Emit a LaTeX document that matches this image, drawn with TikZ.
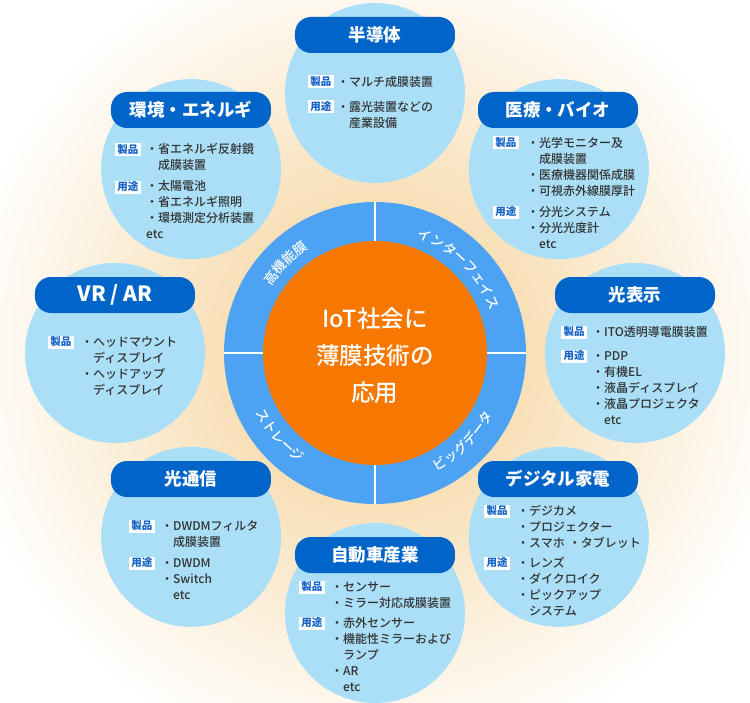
\documentclass[tikz,border=0pt]{standalone}
\usepackage{fontspec}
\setmainfont{Noto Sans CJK JP}
\newfontfamily\medfont{Noto Sans CJK JP Medium}
\usetikzlibrary{decorations.text}
\definecolor{bubblecol}{RGB}{170,223,247}
\definecolor{titleblue}{RGB}{0,100,200}
\definecolor{ringblue}{RGB}{77,163,243}
\definecolor{hubcol}{RGB}{247,120,0}
\definecolor{ink}{RGB}{51,51,51}
\definecolor{tagblue}{RGB}{20,100,200}
\definecolor{glowcol}{RGB}{248,224,184}
\pgfdeclareradialshading{glow}{\pgfpoint{0bp}{0bp}}{color(0bp)=(glowcol); color(9bp)=(glowcol); color(25bp)=(white); color(50bp)=(white)}
\begin{document}
\begin{tikzpicture}[x=1pt,y=1pt,
	bubble/.style={circle,fill=bubblecol,minimum size=180,inner sep=0},
	title/.style={fill=titleblue,text=white,rounded corners=16,minimum width=160,minimum height=36,inner sep=0,font=\fontsize{17.5}{20}\selectfont\bfseries},
	tag/.style={fill=white,text=tagblue,minimum width=26,minimum height=13,inner sep=0,font=\fontsize{10.5}{12}\selectfont\bfseries},
	items/.style={anchor=base west,text width=150,align=left,inner sep=0,text=ink,font=\fontsize{12}{16}\medfont},
	sep/.style={white,line width=2.5},
	ringtext/.style={decorate,decoration={text along path,text align=center,text color=white,text={|\fontsize{13.5}{13.5}\medfont|#1}}}]
		\useasboundingbox (-375,-349) rectangle (375,353);
		\clip (-375,-349) rectangle (375,353);
		\shade[shading=glow] (0,0) circle (420);

		\node[bubble] (semi) at (90:260) {};
		\node[bubble] (env) at (135:260) {};
		\node[bubble] (med) at (45:260) {};
		\node[bubble] (vr) at (180:260) {};
		\node[bubble] (disp) at (0:260) {};
		\node[bubble] (comm) at (225:260) {};
		\node[bubble] (home) at (315:260) {};
		\node[bubble] (auto) at (270:260) {};

		\node[circle,fill=ringblue,minimum size=302,inner sep=0] (ring) at (0,0) {};
		\draw[sep] (ring.north) -- (ring.south); \draw[sep] (ring.west) -- (ring.east);
		\node[circle,fill=hubcol,minimum size=224,inner sep=0] (hub) at (0,0) {};
		\node[align=center,text=white,font=\fontsize{23.5}{37}\medfont] (hubtext) at (0,-3) {IoT社会に\\薄膜技術の\\応用};

		\path[ringtext=高機能膜] (165:123) arc[start angle=165,end angle=105,radius=123];
		\path[ringtext=インターフェイス] (80:123) arc[start angle=80,end angle=10,radius=123];
		\path[ringtext=ビッグデータ] (-80:133) arc[start angle=-80,end angle=-10,radius=133];
		\path[ringtext=ストレージ] (186:133) arc[start angle=186,end angle=256,radius=133];

		\node[title] (semiT) at (0,318) {半導体};
		\node[tag] (semiA) at (-54,271) {製品}; \node[items] (semiAx) at (-38,266.5) {・マルチ成膜装置};
		\node[tag] (semiB) at (-54,246) {用途}; \node[items] (semiBx) at (-38,241.5) {・露光装置などの\\　産業設備};

		\node[title] (envT) at (-184,243) {環境・エネルギ};
		\node[tag] (envA) at (-247,203) {製品}; \node[items] (envAx) at (-229,199.5) {・省エネルギ反射鏡\\　成膜装置};
		\node[tag] (envB) at (-247,166) {用途}; \node[items] (envBx) at (-229,162.5) {・太陽電池\\・省エネルギ照明\\・環境測定分析装置\\etc};

		\node[title] (medT) at (183,243) {医療・バイオ};
		\node[tag] (medA) at (131,210) {製品}; \node[items] (medAx) at (152,205.5) {・光学モニター及\\　成膜装置\\・医療機器関係成膜\\・可視赤外線膜厚計};
		\node[tag] (medB) at (131,141) {用途}; \node[items] (medBx) at (152,136.5) {・分光システム\\・分光光度計\\　etc};

		\node[title,font=\fontsize{21}{24}\selectfont\bfseries] (vrT) at (-260,58) {VR / AR};
		\node[tag] (vrA) at (-314,11) {製品}; \node[items] (vrAx) at (-294,6.5) {・ヘッドマウント\\　ディスプレイ\\・ヘッドアップ\\　ディスプレイ};

		\node[title] (dispT) at (260,58) {光表示};
		\node[tag] (dispA) at (199,21) {製品}; \node[items] (dispAx) at (217,16.5) {・ITO透明導電膜装置};
		\node[tag] (dispB) at (199,-3) {用途}; \node[items] (dispBx) at (217,-7.5) {・PDP\\・有機EL\\・液晶ディスプレイ\\・液晶プロジェクタ\\　etc};

		\node[title] (commT) at (-184,-126) {光通信};
		\node[tag] (commA) at (-233,-173) {製品}; \node[items] (commAx) at (-214,-177.5) {・DWDMフィルタ\\　成膜装置};
		\node[tag] (commB) at (-233,-210) {用途}; \node[items] (commBx) at (-214,-214.5) {・DWDM\\・Switch\\　etc};

		\node[title] (homeT) at (183,-126) {デジタル家電};
		\node[tag] (homeA) at (122,-158) {製品}; \node[items] (homeAx) at (142,-162.5) {・デジカメ\\・プロジェクター\\・スマホ ・タブレット};
		\node[tag] (homeB) at (122,-210) {用途}; \node[items] (homeBx) at (142,-214.5) {・レンズ\\・ダイクロイク\\・ピックアップ\\　システム};

		\node[title] (autoT) at (0,-202) {自動車産業};
		\node[tag] (autoA) at (-63,-234) {製品}; \node[items] (autoAx) at (-44,-238.5) {・センサー\\・ミラー対応成膜装置};
		\node[tag] (autoB) at (-63,-270) {用途}; \node[items] (autoBx) at (-44,-274.5) {・赤外センサー\\・機能性ミラーおよび\\　ランプ\\・AR\\　etc};
\end{tikzpicture}
\end{document}
